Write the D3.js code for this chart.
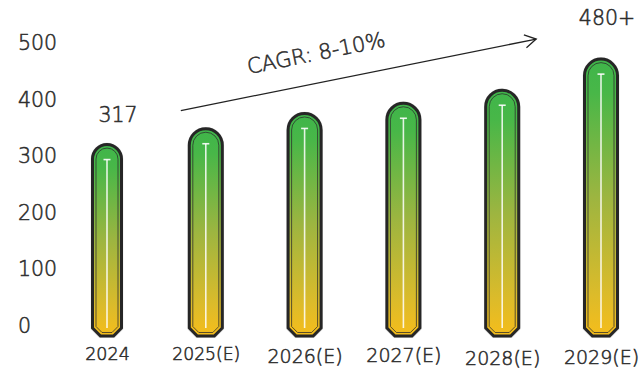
<!DOCTYPE html>
<html><head><meta charset="utf-8">
<script src="https://cdn.jsdelivr.net/npm/d3@7"></script>
<style>
html,body{margin:0;padding:0;background:#fff;}
svg{display:block;font-family:"DejaVu Sans",sans-serif;font-weight:200;}
.t{fill:#2e2e2e;stroke:#2e2e2e;stroke-width:0.55px;paint-order:stroke;}
</style></head>
<body><svg id="chart" width="643" height="376"></svg>
<script>
const categories = ["2024","2025(E)","2026(E)","2027(E)","2028(E)","2029(E)"];
const values = [317, 345, 372, 390, 413, 468];
const valueLabels = ["317", "", "", "", "", "480+"];
const yTicks = [0, 100, 200, 300, 400, 500];
const cagrLabel = "CAGR: 8-10%";

const FONT = "'DejaVu Sans',sans-serif";
const svg = d3.select("#chart");
const y = d3.scaleLinear().domain([0, 500]).range([326, 43]);
const x = d3.scalePoint().domain(categories).range([107, 601]);

const defs = svg.append("defs");
const grad = defs.append("linearGradient").attr("id","barGrad")
  .attr("x1",0).attr("y1",0).attr("x2",0).attr("y2",1);
[[0,"#3fb54a"],[0.12,"#48b748"],[0.5,"#9db540"],[0.85,"#dcbb2a"],[1,"#f5bd1b"]]
  .forEach(([o,c]) => grad.append("stop").attr("offset",o).attr("stop-color",c));

// y axis labels
const yAxis = d3.axisLeft(y).tickValues(yTicks).tickSize(0).tickPadding(0);
const gy = svg.append("g").attr("transform","translate(18,0)").call(yAxis);
gy.select(".domain").remove();
gy.selectAll("text").attr("text-anchor","start").attr("x",0).attr("class","t").attr("fill",null)
  .style("font-size","20.5px").style("font-family",FONT).style("font-weight",200);

// x axis labels
const xSizes = [17.5, 17.2, 19, 19, 19, 19];
const xDy = [11, 11, 13, 12, 15, 14];
const xAxis = d3.axisBottom(x).tickSize(0).tickPadding(0);
const gx = svg.append("g").attr("transform","translate(0,344)").call(xAxis);
gx.select(".domain").remove();
gx.selectAll("text").attr("class","t").attr("fill",null).attr("y",0)
  .style("font-family",FONT).style("font-weight",200)
  .style("font-size",(d,i)=> xSizes[i] + "px")
  .attr("dy",(d,i)=> xDy[i]).attr("dominant-baseline","middle");

function barPath(x0, x1, yt, yb, c) {
  const r = (x1 - x0) / 2;
  return `M${x0},${yt + r} A${r},${r} 0 0 1 ${x1},${yt + r} L${x1},${yb - c} L${x1 - c},${yb} L${x0 + c},${yb} L${x0},${yb - c} Z`;
}

const bw = 33;
const bars = svg.append("g").selectAll("g").data(categories).join("g");
bars.each(function(cat, i) {
  const g = d3.select(this);
  const cx = x(cat);
  const w = i === 0 ? 29 : bw;
  const x0 = cx - w/2, x1 = cx + w/2;
  const yt = y(values[i]) - 2;
  const yb = y(0) + 10;
  g.append("path").attr("d", barPath(x0-1, x1+1, yt-1, yb+1, 8))
    .attr("fill","none").attr("stroke","#bbb").attr("stroke-width",1.5).attr("opacity",0.6);
  g.append("path").attr("d", barPath(x0, x1, yt, yb, 8))
    .attr("fill","url(#barGrad)").attr("stroke","#262626").attr("stroke-width",3);
  const ins = 3.5;
  g.append("path").attr("d", barPath(x0+ins, x1-ins, yt+ins, yb-ins, 6))
    .attr("fill","none").attr("stroke","#2b2b2b").attr("stroke-width",0.9).attr("opacity",0.85);
  const lt = yt + 15, lb = yb - 8;
  g.append("line").attr("x1",cx).attr("x2",cx).attr("y1",lt).attr("y2",lb)
    .attr("stroke","#fff").attr("stroke-width",1.6).attr("opacity",0.85);
  g.append("line").attr("x1",cx-3.5).attr("x2",cx+3.5).attr("y1",lt).attr("y2",lt)
    .attr("stroke","#fff").attr("stroke-width",1.6).attr("opacity",0.9);
});

// value labels
svg.append("g").selectAll("text").data(categories).join("text")
  .attr("class","t")
  .attr("x",(d,i)=> x(d) + (i===0 ? 11 : 6))
  .attr("y",(d,i)=> y(values[i]) - (i===0 ? 32 : 43))
  .attr("dy","0.35em")
  .attr("text-anchor","middle")
  .style("font-size","20.5px").style("font-family",FONT).style("font-weight",200)
  .text((d,i)=> valueLabels[i]);

// CAGR arrow
const ax0 = x(categories[1]) - 25, ay0 = y(values[0]) - 36;
const ax1 = x(categories[4]) + 34, ay1 = y(values[5]) - 22;
const arrow = svg.append("g");
arrow.append("line").attr("x1",ax0).attr("y1",ay0).attr("x2",ax1).attr("y2",ay1)
  .attr("stroke","#222").attr("stroke-width",1.3);
const ang = Math.atan2(ay1 - ay0, ax1 - ax0);
const hl = 13, ha = Math.PI/6;
arrow.append("path")
  .attr("d",`M${ax1 - hl*Math.cos(ang - ha)},${ay1 - hl*Math.sin(ang - ha)} L${ax1},${ay1} L${ax1 - hl*Math.cos(ang + ha)},${ay1 - hl*Math.sin(ang + ha)}`)
  .attr("fill","none").attr("stroke","#222").attr("stroke-width",1.3);
const deg = ang * 180 / Math.PI;
arrow.append("text").attr("class","t")
  .attr("transform",`translate(316,53) rotate(${deg})`)
  .attr("text-anchor","middle").attr("dy","0.35em")
  .style("font-size","21px").style("font-family",FONT).style("font-weight",200)
  .text(cagrLabel);
</script></body></html>
